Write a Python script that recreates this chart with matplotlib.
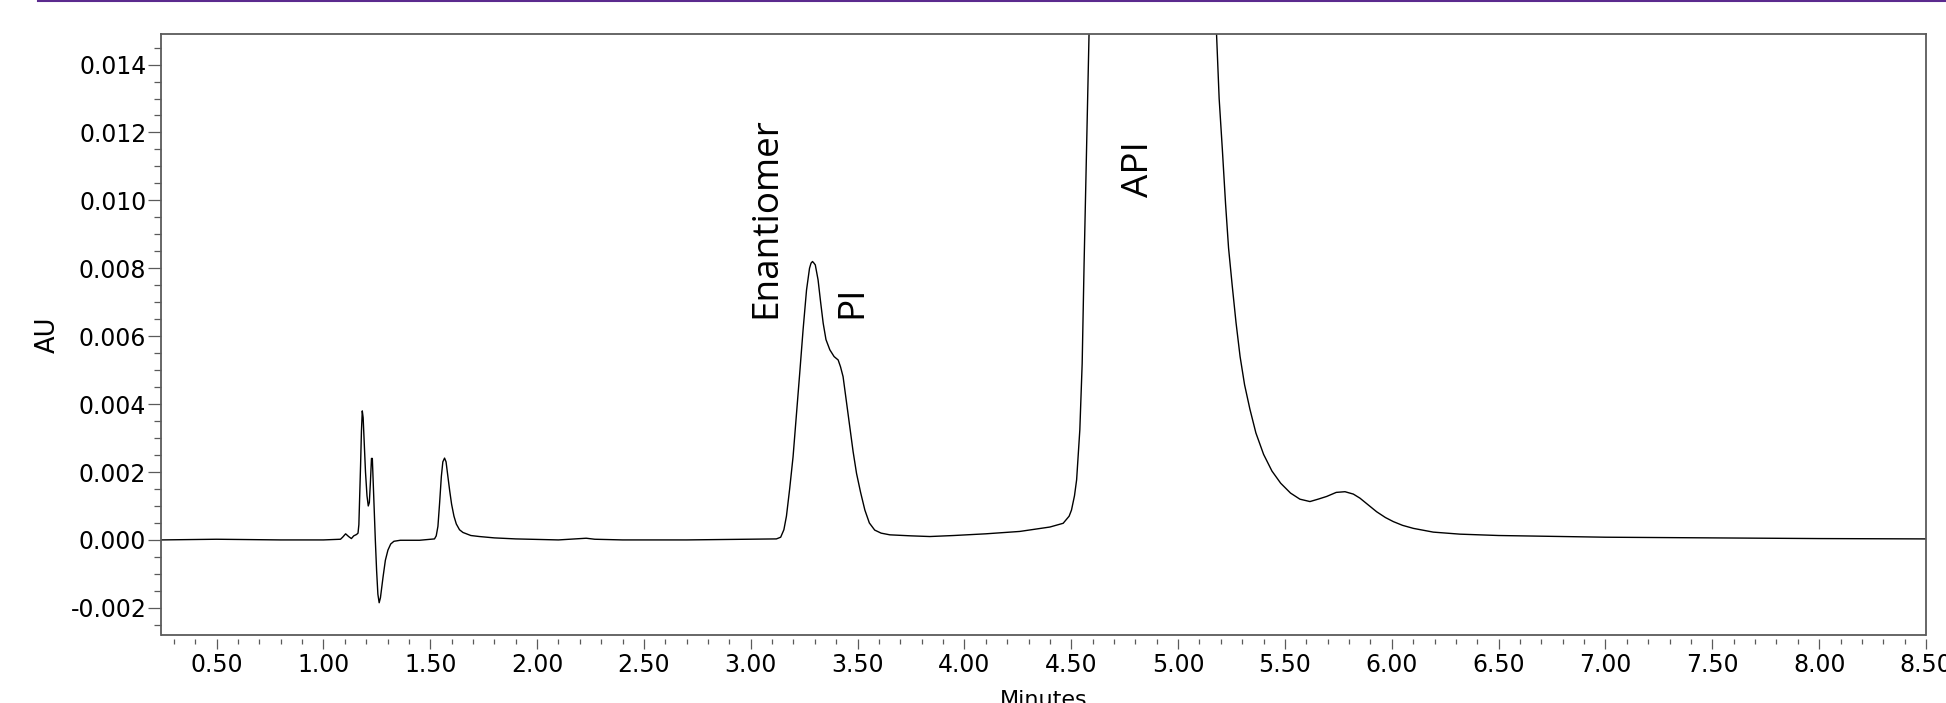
import matplotlib
matplotlib.use("Agg")
import matplotlib.pyplot as plt
from matplotlib.ticker import MultipleLocator, FormatStrFormatter
from matplotlib.lines import Line2D

# ---- data (minutes, AU) ----
time_min = [
    0.24, 0.50, 0.80, 1.00, 1.08, 1.09, 1.104, 1.118, 1.131, 1.142, 1.155, 1.162,
    1.166, 1.170, 1.174, 1.178, 1.182, 1.186, 1.191, 1.197, 1.204, 1.210, 1.215,
    1.220, 1.225, 1.229, 1.233, 1.238, 1.243, 1.249, 1.255, 1.261, 1.267, 1.279,
    1.290, 1.302, 1.315, 1.330, 1.360, 1.450, 1.500, 1.520, 1.528, 1.536, 1.544,
    1.552, 1.559, 1.567, 1.574, 1.582, 1.591, 1.600, 1.611, 1.622, 1.637, 1.653,
    1.690, 1.730, 1.800, 1.900, 2.100, 2.200, 2.230, 2.270, 2.400, 2.700, 3.000,
    3.120, 3.140, 3.155, 3.167, 3.182, 3.198, 3.214, 3.229, 3.245, 3.261, 3.275,
    3.282, 3.289, 3.296, 3.302, 3.315, 3.327, 3.339, 3.352, 3.370, 3.390, 3.409,
    3.420, 3.432, 3.447, 3.463, 3.479, 3.495, 3.514, 3.534, 3.555, 3.580, 3.610,
    3.651, 3.750, 3.838, 3.950, 4.100, 4.259, 4.400, 4.462, 4.490, 4.501, 4.515,
    4.525, 4.540, 4.551, 4.560, 4.572, 4.583, 4.610, 4.700, 4.850, 5.000, 5.120,
    5.170, 5.180, 5.192, 5.207, 5.222, 5.236, 5.253, 5.271, 5.290, 5.311, 5.336,
    5.364, 5.400, 5.439, 5.480, 5.526, 5.570, 5.617, 5.655, 5.695, 5.740, 5.781,
    5.820, 5.851, 5.890, 5.929, 5.970, 6.007, 6.050, 6.101, 6.194, 6.319, 6.500,
    7.000, 7.500, 8.000, 8.500,
]
absorbance = [
    0.0, 0.00002, 0.0, 0.0, 0.00002, 0.00008, 0.00018, 0.00010, 0.00004, 0.00012,
    0.00016, 0.0002, 0.00045, 0.0013, 0.0022, 0.0032, 0.0038, 0.0036, 0.0029,
    0.0020, 0.0013, 0.0010, 0.0011, 0.0017, 0.0024, 0.0024, 0.0017, 0.0008, 0.0,
    -0.0009, -0.0016, -0.00185, -0.0017, -0.0011, -0.0006, -0.0003, -0.00012,
    -0.00004, -0.00001, -0.00001, 0.00002, 0.00003, 0.00012, 0.0004, 0.0011,
    0.00187, 0.0023, 0.00241, 0.0023, 0.0019, 0.00145, 0.00105, 0.0007, 0.00047,
    0.0003, 0.00022, 0.00013, 0.0001, 0.00006, 0.00003, 0.0, 0.00004, 0.00005,
    0.00002, 0.0, 0.0, 0.00002, 0.00003, 0.00008, 0.0003, 0.0007, 0.0015,
    0.00245, 0.0037, 0.0049, 0.0062, 0.00736, 0.0080, 0.00815, 0.0082, 0.00815,
    0.0081, 0.00766, 0.0070, 0.00638, 0.0059, 0.0056, 0.0054, 0.0053, 0.0051,
    0.00481, 0.0041, 0.00334, 0.0026, 0.00196, 0.0014, 0.00088, 0.0005, 0.00029,
    0.0002, 0.00015, 0.00012, 0.0001, 0.00013, 0.00018, 0.00025, 0.00038,
    0.00049, 0.0007, 0.00088, 0.0013, 0.00177, 0.00324, 0.0052, 0.00815, 0.01158,
    0.01487, 0.024, 0.045, 0.060, 0.050, 0.030, 0.0175, 0.01487, 0.0130, 0.0115,
    0.0099, 0.0086, 0.0075, 0.0064, 0.0054, 0.00457, 0.00385, 0.00315, 0.00252,
    0.00203, 0.00167, 0.00138, 0.0012, 0.00113, 0.0012, 0.00128, 0.0014, 0.00142,
    0.00135, 0.00123, 0.00103, 0.00083, 0.00066, 0.00054, 0.00043, 0.00034,
    0.00023, 0.00017, 0.00013, 0.00008, 0.00006, 0.00004, 0.00003,
]

peak_labels = ["Enantiomer", "PI", "API"]
peak_label_x = [3.075, 3.475, 4.816]
peak_label_y = [0.00653, 0.00653, 0.01011]

x_ticks = [0.5, 1.0, 1.5, 2.0, 2.5, 3.0, 3.5, 4.0, 4.5, 5.0, 5.5, 6.0, 6.5, 7.0, 7.5, 8.0, 8.5]
y_ticks = [-0.002, 0.0, 0.002, 0.004, 0.006, 0.008, 0.010, 0.012, 0.014]

plt.rcParams["axes.unicode_minus"] = False
plt.rcParams["font.family"] = ["DejaVu Sans"]

W, H = 1946, 703
fig = plt.figure(figsize=(W / 100, H / 100), dpi=100)
ax = fig.add_axes([161 / W, 1 - 635 / H, 1765 / W, 601 / H])

ax.plot(time_min, absorbance, color="black", lw=1.0)

ax.set_xlim(0.24, 8.5)
ax.set_ylim(-0.0028, 0.0149)

spine_c = "#5a5a5a"
for s in ["left", "top", "right"]:
    ax.spines[s].set_color(spine_c)
    ax.spines[s].set_linewidth(1.3)
ax.spines["bottom"].set_position(("outward", 3))
ax.spines["bottom"].set_visible(False)
ax.plot([0, 1], [0, 0], transform=ax.transAxes, color=spine_c, lw=1.3,
        clip_on=False, solid_capstyle="butt")

ax.set_xticks(x_ticks)
ax.set_yticks(y_ticks)
ax.xaxis.set_major_formatter(FormatStrFormatter("%.2f"))
ax.yaxis.set_major_formatter(FormatStrFormatter("%.3f"))
ax.xaxis.set_minor_locator(MultipleLocator(0.1))
ax.yaxis.set_minor_locator(MultipleLocator(0.0005))

ax.tick_params(axis="x", which="major", length=7.2, width=0.9, color=spine_c,
               labelsize=17, pad=3, direction="out")
ax.tick_params(axis="x", which="minor", length=3.6, width=0.9, color=spine_c,
               direction="out")
ax.tick_params(axis="y", which="major", length=9.6, width=0.9, color=spine_c,
               labelsize=17, pad=1, direction="out")
ax.tick_params(axis="y", which="minor", length=4.8, width=0.9, color=spine_c,
               direction="out")

ax.set_ylabel("AU", fontsize=18.5, labelpad=7)
fig.text(0.5 * (161 + 1926) / W, 1 - 690 / H, "Minutes", fontsize=16,
         ha="center", va="top")

for lab, lx, ly in zip(peak_labels, peak_label_x, peak_label_y):
    ax.text(lx, ly, lab, rotation=90, ha="center", va="bottom",
            fontsize=26.6, family=["Open Sans"], color="black")

fig.add_artist(Line2D([38 / W, 1.0], [1 - 1 / H, 1 - 1 / H],
                      transform=fig.transFigure, color="#5b2a8e", lw=1.5))

fig.savefig("out.png", dpi=100)
